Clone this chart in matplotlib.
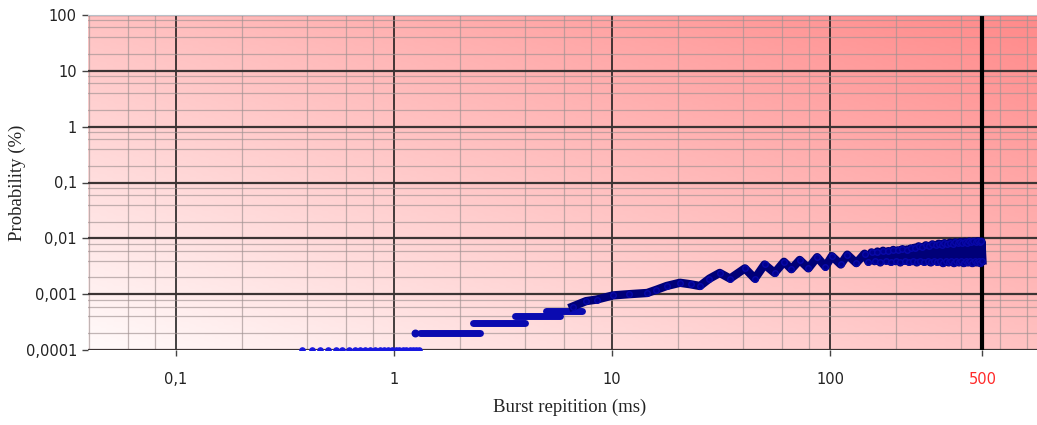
import numpy as np
import matplotlib
matplotlib.use('Agg')
import matplotlib.pyplot as plt
from matplotlib.colors import LinearSegmentedColormap
from matplotlib.ticker import FixedLocator, NullFormatter

# lowest bin: single dots at 0.0001 %
low_x = [0.38, 0.42, 0.46, 0.50, 0.54, 0.58, 0.62, 0.66, 0.70, 0.74, 0.78, 0.82,
         0.86, 0.90, 0.94, 0.98, 1.02, 1.06, 1.10, 1.14, 1.18, 1.22, 1.26, 1.30]
low_y = [0.0001] * len(low_x)

# flat steps (probability, from, to)
step_y = [0.0002, 0.0003, 0.0004, 0.0005]
step_start = [1.32, 2.31, 3.6, 5.0]
step_end = [2.48, 3.99, 5.78, 7.25]
single_x = [1.25]
single_y = [0.0002]

# rising, oscillating part up to ~150 ms
curve_x = [6.6, 7.6, 8.5, 10.1, 12, 14.5, 16, 17.8, 20.5, 23, 25.3, 28, 31.2, 34.8,
           40.7, 45.2, 50.1, 55.7, 61.5, 66.5, 72.6, 79.6, 87.3, 95.3, 102, 112, 120,
           132, 144]
curve_y = [0.0006, 0.00075, 0.0008, 0.00095, 0.001, 0.00105, 0.0012, 0.0014, 0.0016,
           0.0015, 0.0014, 0.0019, 0.0024, 0.0019, 0.0029, 0.0019, 0.0034, 0.0024,
           0.0038, 0.0028, 0.0041, 0.0029, 0.0046, 0.0031, 0.0048, 0.0034, 0.0051,
           0.0036, 0.0053]

# dense band 150..500 ms
band_x = [150, 155, 160, 165, 170, 175, 180, 185, 190, 195, 200, 205, 210, 215, 220,
          225, 230, 235, 240, 245, 250, 255, 260, 265, 270, 275, 280, 285, 290, 295,
          300, 305, 310, 315, 320, 325, 330, 335, 340, 345, 350, 355, 360, 365, 370,
          375, 380, 385, 390, 395, 400, 405, 410, 415, 420, 425, 430, 435, 440, 445,
          450, 455, 460, 465, 470, 475, 480, 485, 490, 495, 500]
band_y = [0.0038, 0.0056, 0.0039, 0.0058, 0.0037, 0.0060, 0.0040, 0.0059, 0.0038,
          0.0062, 0.0039, 0.0061, 0.0037, 0.0064, 0.0040, 0.0063, 0.0038, 0.0066,
          0.0039, 0.0068, 0.0037, 0.0072, 0.0040, 0.0070, 0.0038, 0.0075, 0.0039,
          0.0073, 0.0037, 0.0078, 0.0040, 0.0076, 0.0038, 0.0080, 0.0039, 0.0077,
          0.0036, 0.0082, 0.0040, 0.0079, 0.0037, 0.0084, 0.0039, 0.0080, 0.0036,
          0.0085, 0.0040, 0.0082, 0.0037, 0.0086, 0.0039, 0.0083, 0.0036, 0.0087,
          0.0040, 0.0084, 0.0037, 0.0088, 0.0039, 0.0085, 0.0036, 0.0088, 0.0040,
          0.0086, 0.0037, 0.0089, 0.0039, 0.0086, 0.0036, 0.0088, 0.0040]

xticks = [0.1, 1, 10, 100, 500]
xtick_labels = ['0,1', '1', '10', '100', '500']
yticks = [0.0001, 0.001, 0.01, 0.1, 1, 10, 100]
ytick_labels = ['0,0001', '0,001', '0,01', '0,1', '1', '10', '100']

tick_font = ['Liberation Sans Narrow', 'DejaVu Sans']
label_font = ['Liberation Serif', 'DejaVu Serif']

fig = plt.figure(figsize=(10.37, 4.25), dpi=100)
ax = fig.add_axes([88 / 1037, 75 / 425, 949 / 1037, 335 / 425])
ax.set_xscale('log')
ax.set_yscale('log')
ax.set_xlim(0.0395, 890)
ax.set_ylim(0.0001, 100)

# pink gradient background, white at bottom-left to red at top-right
u, v = np.meshgrid(np.linspace(0, 1, 300), np.linspace(0, 1, 120))
t = 0.5 * u + 0.5 * v
cmap = LinearSegmentedColormap.from_list('pk', ['#fffafa', '#ff8a8a'])
ax.imshow(t, cmap=cmap, vmin=0, vmax=1, extent=[0, 1, 0, 1], origin='lower',
          transform=ax.transAxes, aspect='auto', zorder=0)

ax.xaxis.set_major_locator(FixedLocator(xticks))
ax.yaxis.set_major_locator(FixedLocator(yticks))
ax.xaxis.set_minor_locator(FixedLocator([m * 10.0 ** e for e in range(-2, 3) for m in (2, 4, 6, 8)]))
ax.yaxis.set_minor_locator(FixedLocator([m * 10.0 ** e for e in range(-4, 2) for m in (2, 4, 6, 8)]))
ax.xaxis.set_minor_formatter(NullFormatter())
ax.yaxis.set_minor_formatter(NullFormatter())
ax.set_xticklabels(xtick_labels, family=tick_font, fontsize=10.5, color='#222222')
ax.set_yticklabels(ytick_labels, family=tick_font, fontsize=10.5, color='#222222')
ax.get_xticklabels()[-1].set_color('#ff2a2a')
ax.tick_params(which='minor', length=0)
ax.tick_params(which='major', length=4, color='#444444', width=1)
ax.tick_params(axis='x', pad=12)
ax.tick_params(axis='y', pad=4)

ax.grid(which='minor', color='#a09292', lw=0.9, alpha=0.65, zorder=1)
ax.grid(which='major', axis='y', color='#3c3434', lw=1.6, zorder=1)
ax.grid(which='major', axis='x', color='#111111', lw=1.1, zorder=1)
ax.set_axisbelow(True)
ax.axvline(500, color='#000000', lw=3, zorder=2)

for s in ['left', 'right', 'bottom']:
    ax.spines[s].set_visible(False)
ax.spines['top'].set_color('#b8c0c8')

ax.scatter(low_x, low_y, s=14, color='#1818e0', zorder=4, clip_on=True)
ax.hlines(step_y, step_start, step_end, colors='#0a0ab0', lw=5, capstyle='round', zorder=4)
ax.scatter(single_x, single_y, s=22, color='#0a0ab0', zorder=4)
ax.plot(curve_x + band_x, curve_y + band_y, color='#000078', lw=6, marker='o', ms=4,
        mfc='#00008c', mec='#0808a8', solid_joinstyle='round', zorder=4)

ax.set_xlabel('Burst repitition (ms)', family=label_font, fontsize=13.5, color='#222222')
ax.set_ylabel('Probability (%)', family=label_font, fontsize=13.5, color='#222222')
ax.xaxis.set_label_coords(0.508, -0.145)
ax.yaxis.set_label_coords(-0.065, 0.5)

fig.savefig('out.png', dpi=100)
